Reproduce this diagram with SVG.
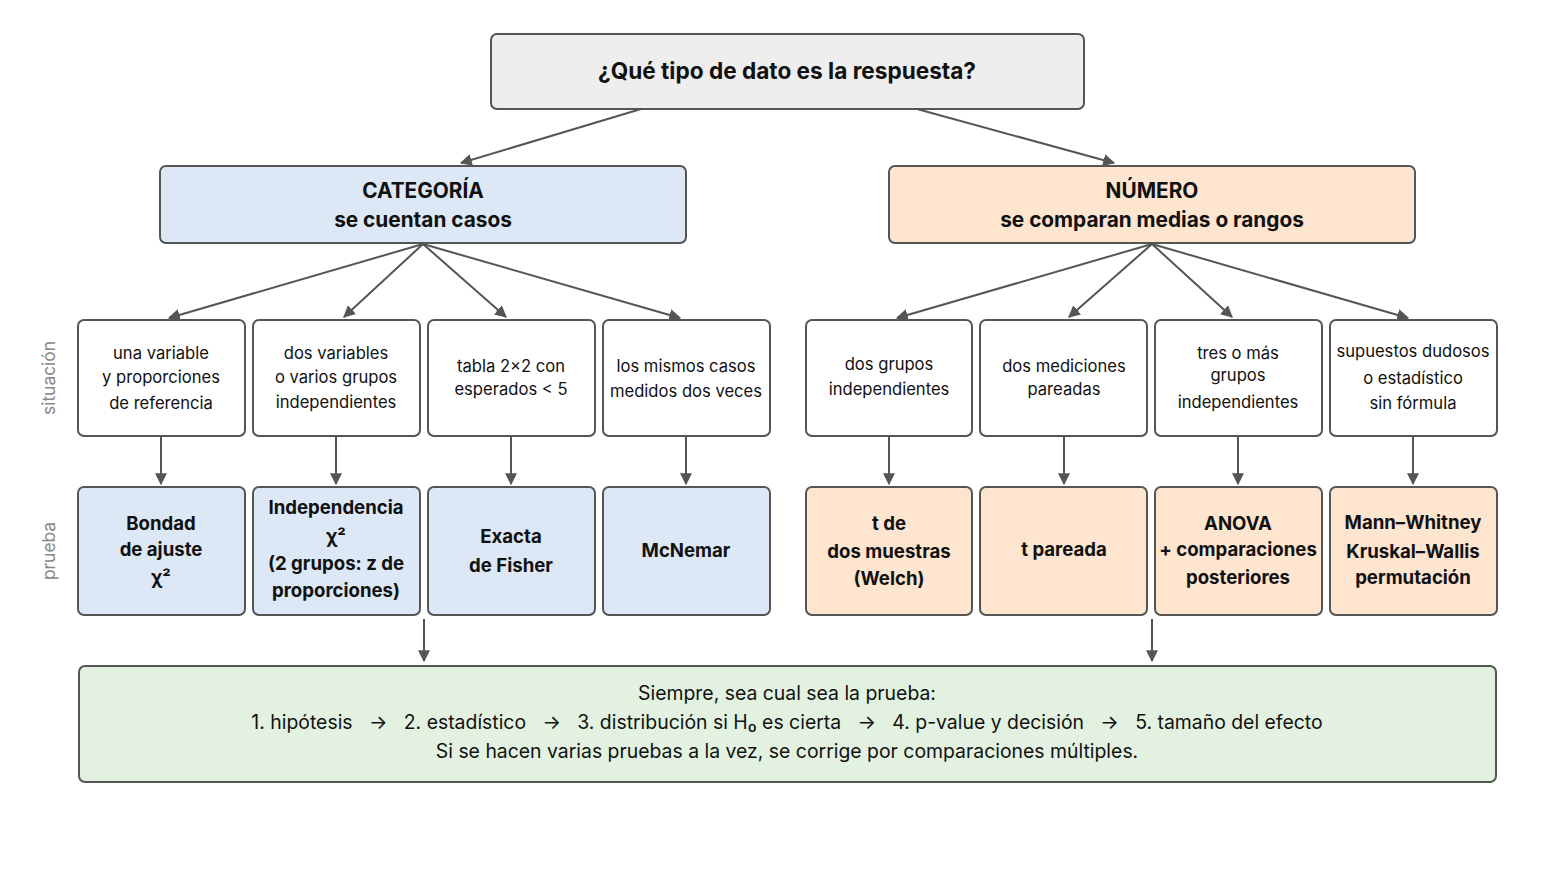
<svg xmlns="http://www.w3.org/2000/svg" width="1541" height="884" viewBox="0 0 1541 884">
<style>
text{font-family:Inter,"Noto Sans","Liberation Sans",sans-serif;fill:#111;text-anchor:middle}
.b{stroke:#555;stroke-width:2}
.g{fill:#eeeeee}.c{fill:#dce8f5}.n{fill:#fde5cf}.w{fill:#ffffff}.f{fill:#e2f1e0}
.t{font-size:22.6px;font-weight:700}
.h{font-size:20.8px;font-weight:700}
.s{font-size:16.6px}
.p{font-size:18.6px;font-weight:700}
.m{font-size:19.4px}
.l{font-size:17.4px;fill:#888}
.e{stroke:#555;stroke-width:2;fill:none;marker-end:url(#a)}
</style>
<defs>
<marker id="a" viewBox="0 0 10 10" refX="9" refY="5" markerWidth="6" markerHeight="6" markerUnits="strokeWidth" orient="auto"><path d="M0,0L10,5L0,10z" fill="#555"/></marker>
</defs>
<g id="connectors">
<path class="e" d="M641,109L461,163"/>
<path class="e" d="M917,109L1114,163"/>
<path class="e" d="M423,244L169,318"/>
<path class="e" d="M423,244L344,317"/>
<path class="e" d="M423,244L506,317"/>
<path class="e" d="M423,244L680,318"/>
<path class="e" d="M1152,244L897,318"/>
<path class="e" d="M1152,244L1069,317"/>
<path class="e" d="M1152,244L1232,317"/>
<path class="e" d="M1152,244L1408,318"/>
<path class="e" d="M161,437V484"/>
<path class="e" d="M336,437V484"/>
<path class="e" d="M511,437V484"/>
<path class="e" d="M686,437V484"/>
<path class="e" d="M889,437V484"/>
<path class="e" d="M1064,437V484"/>
<path class="e" d="M1238,437V484"/>
<path class="e" d="M1413,437V484"/>
<path class="e" d="M424,619V661"/>
<path class="e" d="M1152,619V661"/>
</g>
<g id="labels">
<text class="l" transform="translate(55,378) rotate(-90)">situación</text>
<text class="l" transform="translate(55,551) rotate(-90)">prueba</text>
</g>
<g id="root"><rect class="b g" x="491" y="34" width="593" height="75" rx="6"/><text class="t" x="787" y="79">¿Qué tipo de dato es la respuesta?</text></g>
<g id="categoria"><rect class="b c" x="160" y="166" width="526" height="77" rx="6"/><text class="h" x="423" y="198">CATEGORÍA</text><text class="h" x="423" y="227">se cuentan casos</text></g>
<g id="numero"><rect class="b n" x="889" y="166" width="526" height="77" rx="6"/><text class="h" x="1152" y="198">NÚMERO</text><text class="h" x="1152" y="227">se comparan medias o rangos</text></g>
<g id="s1"><rect class="b w" x="78" y="320" width="167" height="116" rx="6"/><text class="s" x="161" y="359">una variable</text><text class="s" x="161" y="383">y proporciones</text><text class="s" x="161" y="409">de referencia</text></g>
<g id="s2"><rect class="b w" x="253" y="320" width="167" height="116" rx="6"/><text class="s" x="336" y="359">dos variables</text><text class="s" x="336" y="383">o varios grupos</text><text class="s" x="336" y="408">independientes</text></g>
<g id="s3"><rect class="b w" x="428" y="320" width="167" height="116" rx="6"/><text class="s" x="511" y="372">tabla 2×2 con</text><text class="s" x="511" y="395">esperados &lt; 5</text></g>
<g id="s4"><rect class="b w" x="603" y="320" width="167" height="116" rx="6"/><text class="s" x="686" y="372">los mismos casos</text><text class="s" x="686" y="397">medidos dos veces</text></g>
<g id="s5"><rect class="b w" x="806" y="320" width="166" height="116" rx="6"/><text class="s" x="889" y="370">dos grupos</text><text class="s" x="889" y="395">independientes</text></g>
<g id="s6"><rect class="b w" x="980" y="320" width="167" height="116" rx="6"/><text class="s" x="1064" y="372">dos mediciones</text><text class="s" x="1064" y="395">pareadas</text></g>
<g id="s7"><rect class="b w" x="1155" y="320" width="167" height="116" rx="6"/><text class="s" x="1238" y="359">tres o más</text><text class="s" x="1238" y="381">grupos</text><text class="s" x="1238" y="408">independientes</text></g>
<g id="s8"><rect class="b w" x="1330" y="320" width="167" height="116" rx="6"/><text class="s" x="1413" y="357">supuestos dudosos</text><text class="s" x="1413" y="384">o estadístico</text><text class="s" x="1413" y="409">sin fórmula</text></g>
<g id="p1"><rect class="b c" x="78" y="487" width="167" height="128" rx="6"/><text class="p" x="161" y="530">Bondad</text><text class="p" x="161" y="556">de ajuste</text><text class="p" x="161" y="584">χ²</text></g>
<g id="p2"><rect class="b c" x="253" y="487" width="167" height="128" rx="6"/><text class="p" x="336" y="514">Independencia</text><text class="p" x="336" y="543">χ²</text><text class="p" x="336" y="570">(2 grupos: z de</text><text class="p" x="336" y="597">proporciones)</text></g>
<g id="p3"><rect class="b c" x="428" y="487" width="167" height="128" rx="6"/><text class="p" x="511" y="543">Exacta</text><text class="p" x="511" y="572">de Fisher</text></g>
<g id="p4"><rect class="b c" x="603" y="487" width="167" height="128" rx="6"/><text class="p" x="686" y="557">McNemar</text></g>
<g id="p5"><rect class="b n" x="806" y="487" width="166" height="128" rx="6"/><text class="p" x="889" y="530">t de</text><text class="p" x="889" y="558">dos muestras</text><text class="p" x="889" y="585">(Welch)</text></g>
<g id="p6"><rect class="b n" x="980" y="487" width="167" height="128" rx="6"/><text class="p" x="1064" y="556">t pareada</text></g>
<g id="p7"><rect class="b n" x="1155" y="487" width="167" height="128" rx="6"/><text class="p" x="1238" y="530">ANOVA</text><text class="p" x="1238" y="556">+ comparaciones</text><text class="p" x="1238" y="584">posteriores</text></g>
<g id="p8"><rect class="b n" x="1330" y="487" width="167" height="128" rx="6"/><text class="p" x="1413" y="529">Mann–Whitney</text><text class="p" x="1413" y="558">Kruskal–Wallis</text><text class="p" x="1413" y="584">permutación</text></g>
<g id="siempre"><rect class="b f" x="79" y="666" width="1417" height="116" rx="6"/><text class="m" x="787" y="700">Siempre, sea cual sea la prueba:</text><text class="m" x="787" y="729" xml:space="preserve">1. hipótesis   →   2. estadístico   →   3. distribución si H₀ es cierta   →   4. p-value y decisión   →   5. tamaño del efecto</text><text class="m" x="787" y="758">Si se hacen varias pruebas a la vez, se corrige por comparaciones múltiples.</text></g>
</svg>
